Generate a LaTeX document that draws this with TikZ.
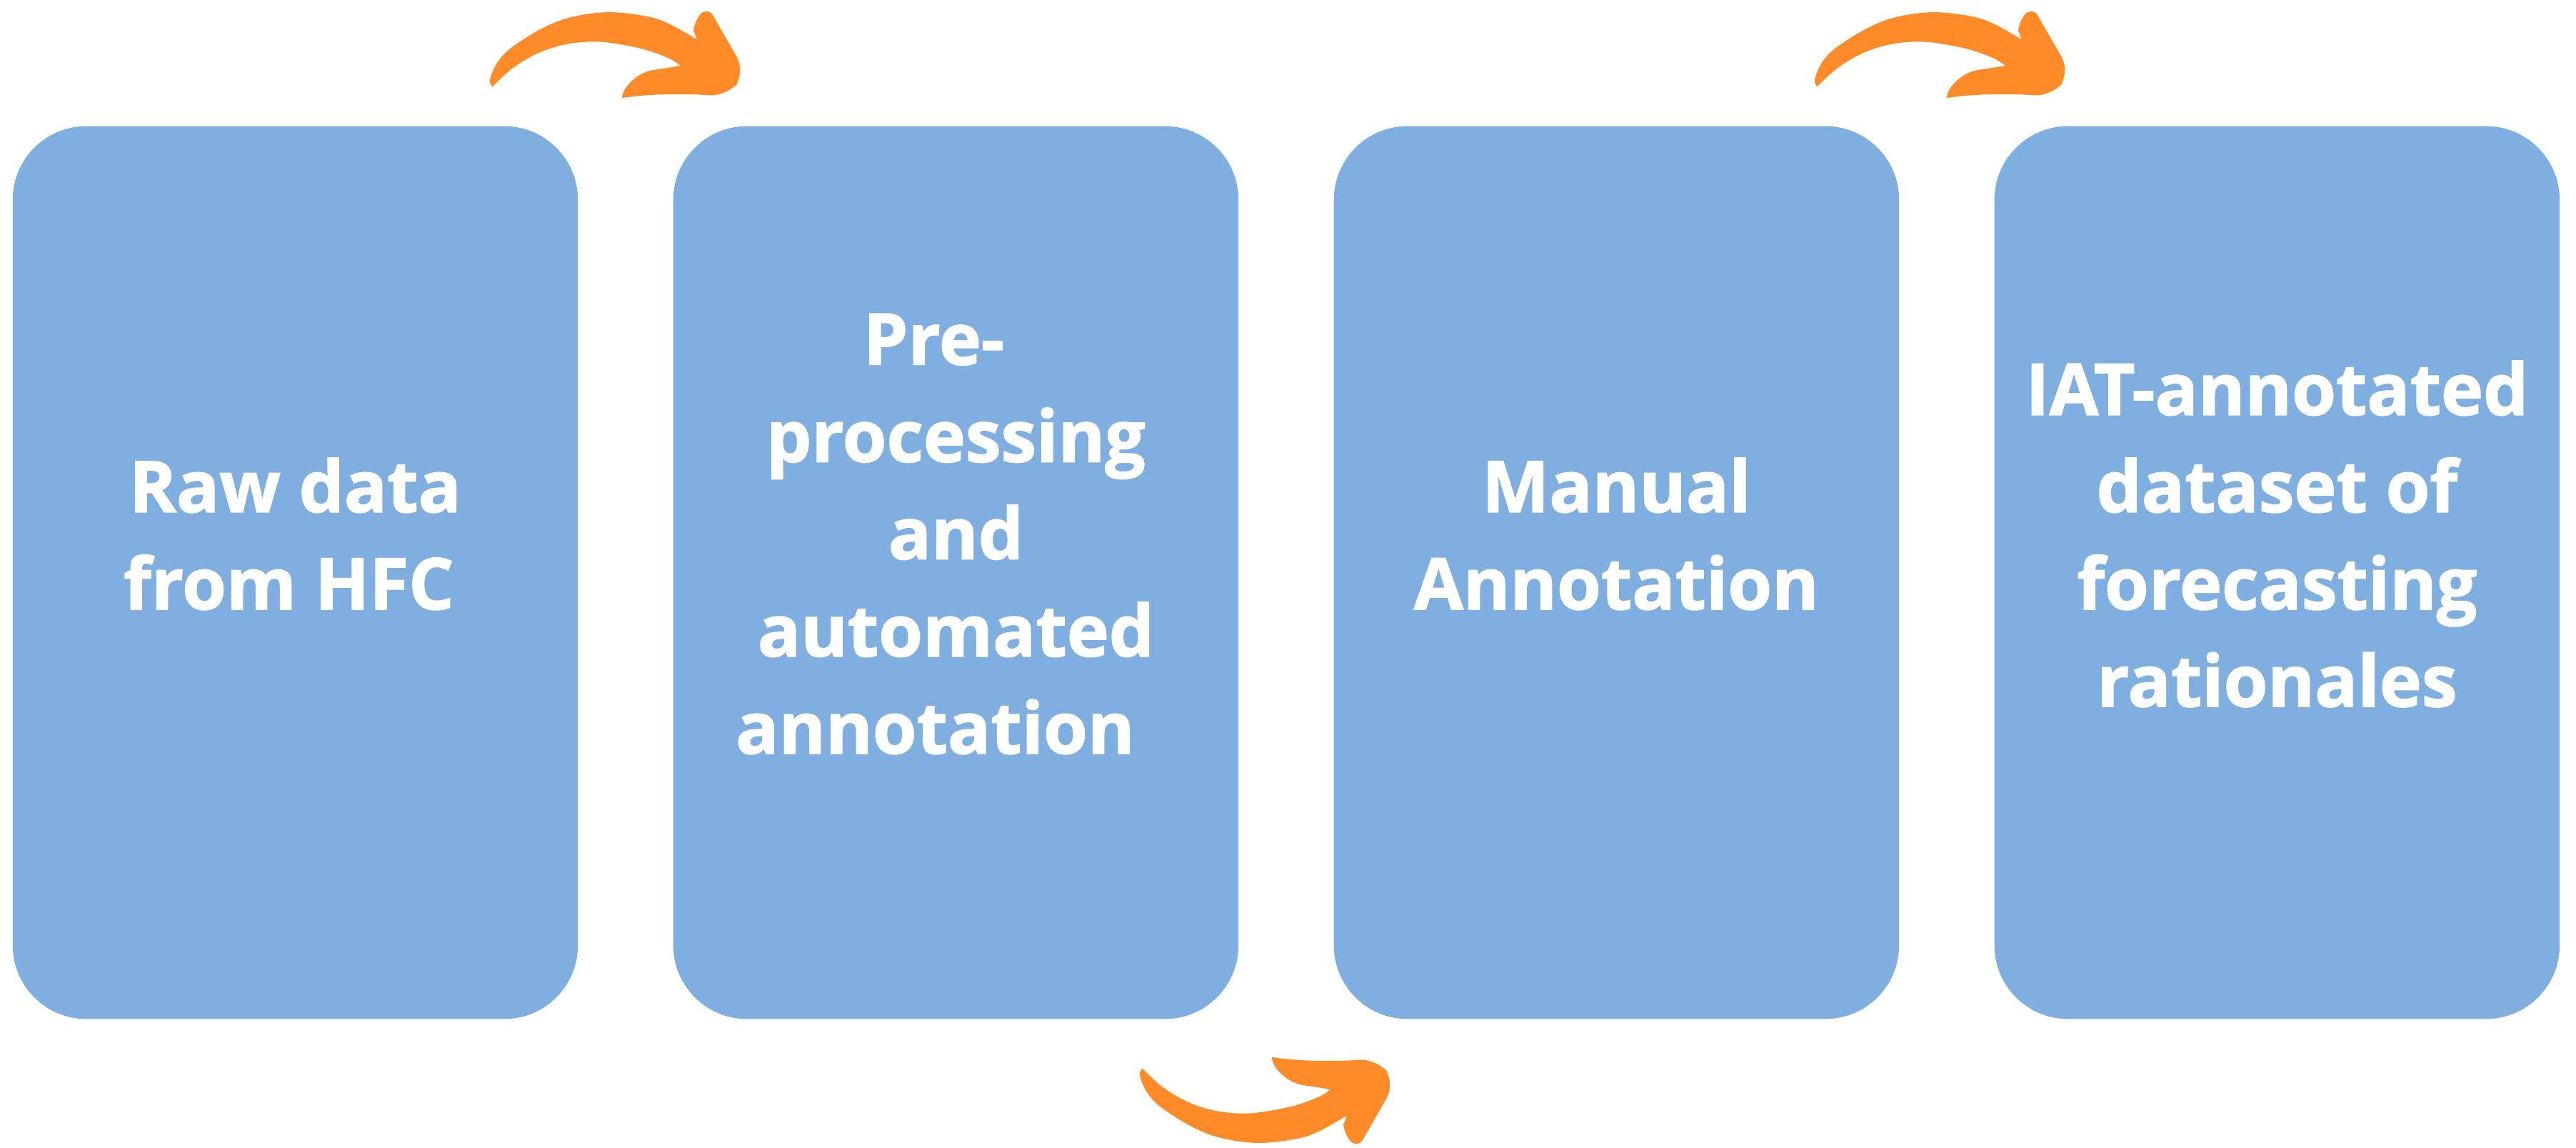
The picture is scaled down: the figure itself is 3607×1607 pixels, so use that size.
\documentclass[tikz,border=0pt]{standalone}
\usepackage{fontspec}
\setmainfont{Open Sans}[BoldFeatures={FakeBold=1.6}]
\usetikzlibrary{positioning,calc}

\definecolor{boxblue}{RGB}{127,175,225}
\definecolor{arroworange}{RGB}{254,138,40}

\tikzset{
  stepbox/.style={fill=boxblue, rounded corners=1.03cm, minimum width=7.91cm,
    minimum height=12.49cm, inner sep=0pt},
  boxtext/.style={text=white, font=\bfseries\fontsize{28.4}{38.7}\selectfont, align=center},
  bentarrow/.pic={
    \fill[arroworange]
      plot[smooth, tension=0.6] coordinates {(-190,-116.7) (-188.3,-106.7) (-178.3,-86.7)
        (-158.3,-66.7) (-115,-40) (-75,-25) (-25,-18.3) (25,-23.3) (58.3,-33.3) (100,-56.7)}
      -- (95,-43.3) [rounded corners=0.15cm] -- (95,-31.7) -- (115,-10)
      [rounded corners=0.25cm] -- (168.3,-103) -- (141.7,-136.7) [sharp corners]
      .. controls (100,-133) and (40,-131) .. (-5,-138.3)
      .. controls (-5,-125) and (15,-103) .. (38.3,-99.3)
      -- plot[smooth, tension=0.6] coordinates {(76.7,-93.3) (61.7,-83.3) (25,-70)
        (-25,-60.7) (-58.3,-60) (-91.7,-65) (-125,-76.7) (-158.3,-96.7) (-186.7,-122.7)}
      -- cycle;
  }
}

\begin{document}
\begin{tikzpicture}[x=0.01cm, y=0.01cm]
  \useasboundingbox (0,0) rectangle (3607,-1607);

  % Cajas
  \node[stepbox] (b1) at (413.5,-801.5) {};
  \node[stepbox, right=1.32cm of b1] (b2) {};
  \node[stepbox, right=1.32cm of b2] (b3) {};
  \node[stepbox, right=1.32cm of b3] (b4) {};

  % Textos
  \node[boxtext] (t1) at ([yshift=0.54cm]b1.center) {Raw data\\from HFC\hspace*{0.18cm}};
  \node[boxtext] (t2) at ([yshift=0.54cm]b2.center)
    {Pre-\hspace*{0.62cm}\\processing\\and\\automated\\annotation\hspace*{0.58cm}};
  \node[boxtext] (t3) at ([yshift=0.54cm]b3.center) {Manual\\Annotation};
  \node[boxtext] (t4) at ([yshift=0.54cm]b4.center)
    {IAT-annotated\\dataset of\\forecasting\\rationales};

  % Flechas
  \pic at ([yshift=1.77cm]$(b1.north east)!0.5!(b2.north west)$) {bentarrow};
  \pic[yscale=-1] at ([xshift=-0.15cm, yshift=-1.91cm]$(b2.south east)!0.5!(b3.south west)$) {bentarrow};
  \pic at ([xshift=0.05cm, yshift=1.77cm]$(b3.north east)!0.5!(b4.north west)$) {bentarrow};
\end{tikzpicture}
\end{document}
